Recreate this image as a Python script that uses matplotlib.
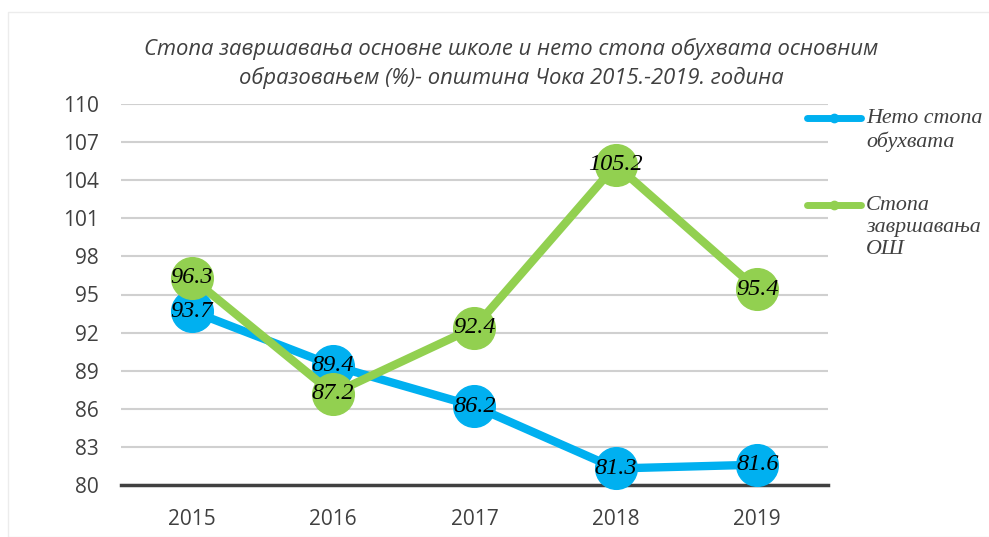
import matplotlib
matplotlib.use("Agg")
import matplotlib.pyplot as plt
from matplotlib.patches import Rectangle
from matplotlib.lines import Line2D

years = ["2015", "2016", "2017", "2018", "2019"]
neto = [93.7, 89.4, 86.2, 81.3, 81.6]
stopa = [96.3, 87.2, 92.4, 105.2, 95.4]
series_names = ["Нето стопа\nобухвата", "Стопа\nзавршавања\nОШ"]
title = "Стопа завршавања основне школе и нето стопа обухвата основним\nобразовањем (%)- општина Чока 2015.-2019. година"
yticks = [80, 83, 86, 89, 92, 95, 98, 101, 104, 107, 110]

blue = "#00B0F0"
green = "#92D050"
txt = "#404040"

fig = plt.figure(figsize=(9.89, 5.37), dpi=100)
fig.patches.append(Rectangle((8/989, 0), 1, 1 - 12/537, transform=fig.transFigure,
                             fill=False, edgecolor="#ececec", lw=1))
ax = fig.add_axes([121/989, 1 - 485/537, (828 - 121)/989, (485 - 104)/537])

x = list(range(len(years)))
ax.set_xlim(-0.5, len(years) - 0.5)
ax.set_ylim(80, 110)
ax.set_yticks(yticks)
ax.yaxis.grid(True, color="#d0d0d0", lw=1.5, zorder=0)
ax.set_axisbelow(True)
for s in ["top", "right", "left"]:
    ax.spines[s].set_visible(False)
ax.spines["bottom"].set_color("#404040")
ax.spines["bottom"].set_linewidth(2.5)
ax.tick_params(length=0, labelsize=15, colors=txt)
ax.tick_params(axis="y", pad=16)
ax.tick_params(axis="x", pad=17)
ax.set_xticks(x)
ax.set_xticklabels(years)
for lab in ax.get_xticklabels() + ax.get_yticklabels():
    lab.set_family("Open Sans")
    lab.set_color(txt)

series = [(neto, blue, 3), (stopa, green, 4)]
for vals, col, z in series:
    ax.plot(x, vals, color=col, lw=6, marker="o", ms=30, zorder=z, clip_on=False)
    for xi, v in zip(x, vals):
        ax.text(xi, v, f"{v:.1f}", ha="center", va="center", fontsize=17.5,
                family="Liberation Serif", style="italic", color="black", zorder=6)

# legend (manual placement)
leg_y = [118, 205]
for (vals, col, z), name, ly in zip(series, series_names, leg_y):
    yf = 1 - ly/537
    fig.add_artist(Line2D([807/989, 861/989], [yf, yf], transform=fig.transFigure,
                          color=col, lw=5, solid_capstyle="round"))
    fig.add_artist(Line2D([834/989], [yf], transform=fig.transFigure,
                          color=col, marker="o", ms=6))
    fig.text(866/989, 1 - (ly - 9)/537, name, ha="left", va="top", fontsize=15.8,
             family="Liberation Serif", style="italic", color=txt, linespacing=1.22)

fig.text(511/989, 1 - 63/537, title, ha="center", va="center", fontsize=15.8,
         family="Open Sans", style="italic", color=txt, linespacing=1.4)

fig.savefig("out.png", dpi=100)
